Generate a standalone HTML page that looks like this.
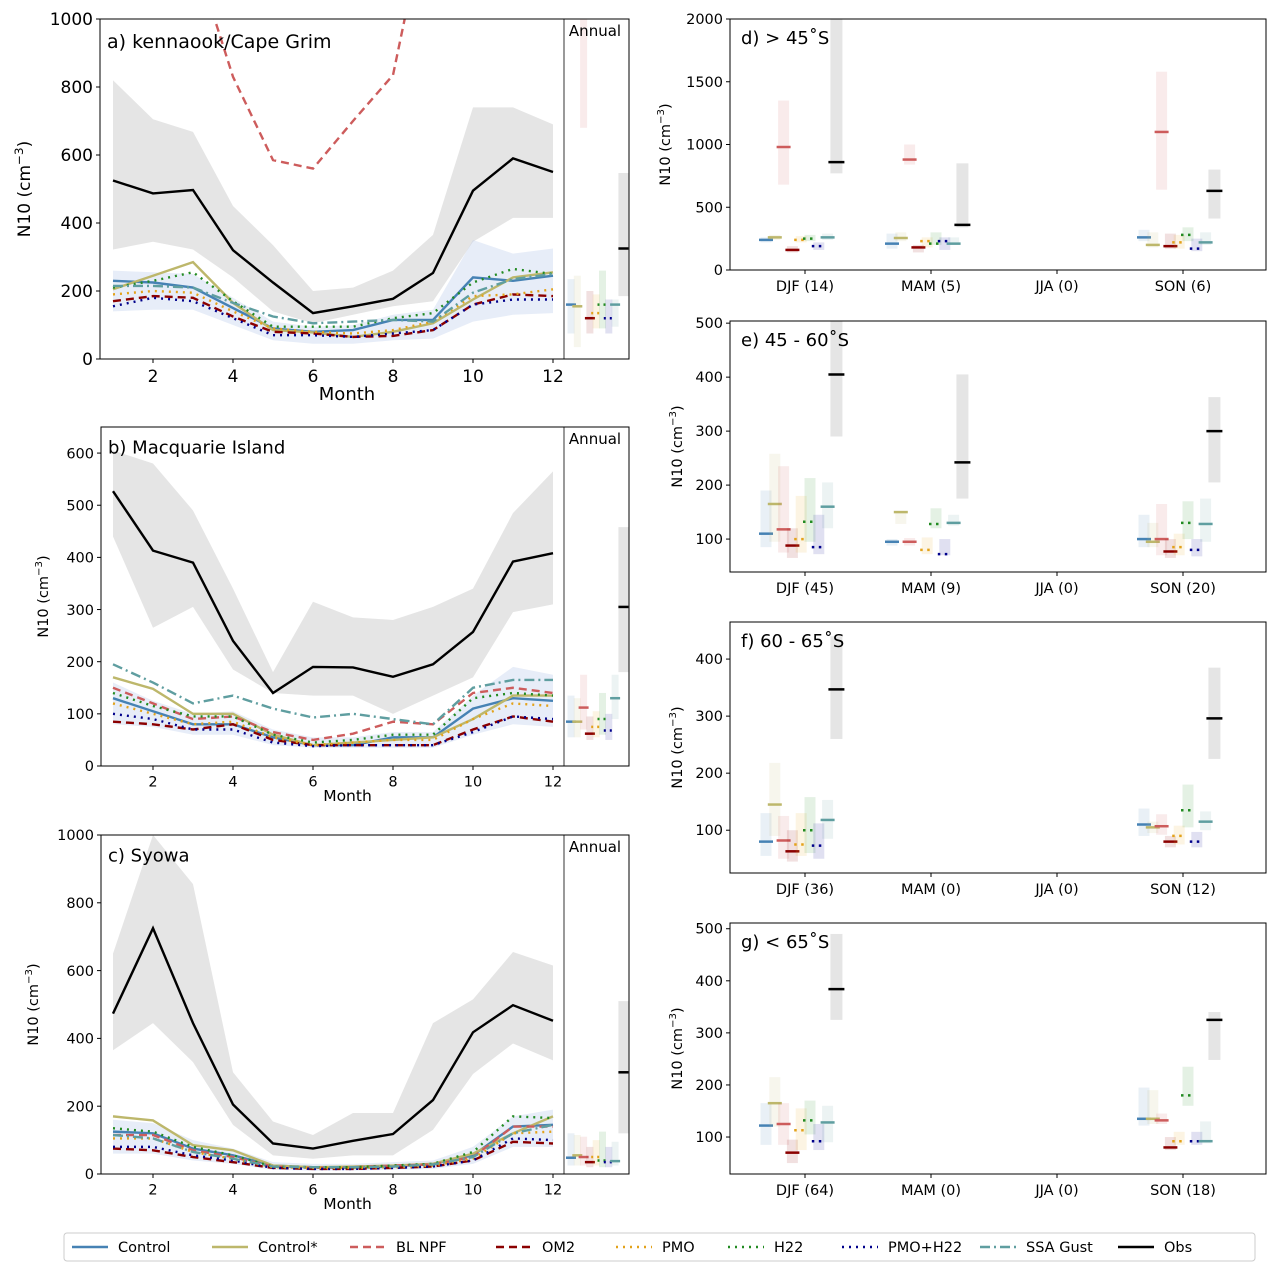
<!DOCTYPE html>
<html><head><meta charset="utf-8"><style>
body{margin:0;background:#fff;font-family:"Liberation Sans","DejaVu Sans",sans-serif}
svg text{font-family:"DejaVu Sans","Liberation Sans",sans-serif}
</style></head><body>
<svg id="fig" width="1278" height="1276" xmlns="http://www.w3.org/2000/svg"></svg>
<script>
const seriesNames=["Control","Control*","BL NPF","OM2","PMO","H22","PMO+H22","SSA Gust","Obs"];
const seriesColors=["#4682b4","#bdb76b","#cd5c5c","#8b0000","#e3a21a","#228b22","#00008b","#5f9ea0","#000000"];
const seriesDash=["","","8,5","8,5","2,5","2,5","2,5","10,4,2,4",""];
const months=[1,2,3,4,5,6,7,8,9,10,11,12];
// Panel a: kennaook/Cape Grim
const aObs=[525,487,497,320,225,135,155,177,253,495,590,550];
const aObsLo=[322,345,322,240,140,105,130,155,170,345,415,415];
const aObsHi=[820,705,668,450,335,200,210,260,365,740,740,690];
const aBandLo=[140,145,145,100,55,45,45,55,60,110,130,135];
const aBandHi=[260,255,250,180,110,95,100,130,145,350,310,325];
const aControl=[230,225,210,150,90,80,85,115,115,240,230,245];
const aControlS=[205,245,285,165,85,78,65,80,105,175,240,255];
const aBLNPF=[1500,1400,1200,830,585,560,700,835,1400,1600,1600,1600];
const aOM2=[170,185,180,125,80,75,65,68,85,160,190,185];
const aPMO=[190,200,195,140,90,80,75,85,110,185,190,205];
const aH22=[210,230,255,170,95,95,95,120,135,225,265,250];
const aPMOH22=[155,180,170,120,70,70,65,75,85,160,175,175];
const aSSA=[215,215,210,165,125,105,110,115,110,195,235,250];
const aAnnMean=[160,155,1100,120,135,160,120,160,325];
const aAnnLo=[75,35,680,75,90,90,75,95,185];
const aAnnHi=[235,245,1500,200,190,260,175,175,547];
// Panel b: Macquarie Island
const bObs=[527,413,390,240,140,190,189,171,195,257,392,408];
const bObsLo=[440,265,305,185,140,135,135,100,135,170,295,310];
const bObsHi=[605,580,490,340,180,315,285,280,305,340,485,565];
const bBandLo=[80,75,60,60,40,35,35,35,35,60,80,75];
const bBandHi=[160,125,100,105,70,55,55,65,65,135,190,175];
const bControl=[130,105,80,80,55,40,40,55,55,110,130,125];
const bControlS=[170,148,100,100,60,40,45,50,55,90,135,135];
const bBLNPF=[150,120,90,95,65,50,62,85,80,140,150,140];
const bOM2=[85,80,70,80,50,40,40,40,40,70,95,85];
const bPMO=[120,100,80,85,55,40,45,50,50,90,120,115];
const bH22=[140,115,95,95,60,45,50,60,60,130,140,135];
const bPMOH22=[100,90,70,70,45,38,40,40,40,65,95,90];
const bSSA=[195,160,120,135,110,93,100,90,80,150,165,165];
const bAnnMean=[85,85,112,62,75,90,68,130,305];
const bAnnLo=[55,55,70,50,55,60,50,90,180];
const bAnnHi=[135,130,175,95,105,140,100,175,458];
// Panel c: Syowa
const cObs=[473,725,445,205,90,75,98,118,218,418,498,452];
const cObsLo=[365,445,330,145,55,45,55,55,130,295,385,335];
const cObsHi=[650,1000,855,300,155,115,180,180,445,515,655,615];
const cBandLo=[60,60,40,30,12,10,10,12,15,30,80,80];
const cBandHi=[160,150,100,75,35,30,30,35,40,80,170,190];
const cControl=[125,120,75,55,25,20,18,22,30,55,140,145];
const cControlS=[170,158,85,70,25,20,22,25,30,60,120,170];
const cBLNPF=[115,115,70,50,22,18,20,25,28,50,140,140];
const cOM2=[75,70,50,35,18,15,15,18,22,40,95,90];
const cPMO=[105,105,65,45,20,18,18,20,25,45,120,125];
const cH22=[135,125,80,55,22,20,20,25,30,65,170,165];
const cPMOH22=[80,80,55,40,18,15,15,18,22,40,105,100];
const cSSA=[115,105,65,45,22,20,20,22,28,50,120,145];
const cAnnMean=[48,55,50,35,50,40,35,38,300];
const cAnnLo=[25,25,25,20,25,20,20,25,120];
const cAnnHi=[120,115,110,80,100,125,80,95,510];
// Right panels: seasons, per-series [DJF,MAM,JJA,SON]; null = no data
const dLabels=["DJF (14)","MAM (5)","JJA (0)","SON (6)"];
const dMean=[[240,210,null,260],[260,255,null,200],[980,880,null,1100],[160,180,null,190],[240,230,null,220],[250,210,null,280],[190,230,null,170],[260,210,null,220],[860,360,null,630]];
const dLo=[[220,170,null,230],[240,230,null,180],[680,840,null,640],[140,140,null,170],[220,180,null,170],[230,200,null,230],[160,160,null,150],[240,200,null,200],[770,340,null,410]];
const dHi=[[260,290,null,320],[280,300,null,300],[1350,1000,null,1580],[190,200,null,290],[270,260,null,280],[280,300,null,340],[220,260,null,250],[290,260,null,300],[2000,850,null,800]];
const eLabels=["DJF (45)","MAM (9)","JJA (0)","SON (20)"];
const eMean=[[110,95,null,100],[165,150,null,95],[118,95,null,100],[88,null,null,77],[100,80,null,85],[132,128,null,130],[85,72,null,80],[160,130,null,128],[405,242,null,300]];
const eLo=[[85,88,null,85],[95,128,null,85],[75,88,null,70],[65,null,null,65],[75,72,null,70],[95,120,null,100],[72,70,null,68],[120,125,null,95],[290,175,null,205]];
const eHi=[[190,100,null,145],[258,152,null,130],[235,102,null,165],[120,null,null,100],[180,103,null,110],[213,157,null,170],[145,100,null,100],[205,145,null,175],[510,405,null,363]];
const fLabels=["DJF (36)","MAM (0)","JJA (0)","SON (12)"];
const fMean=[[80,null,null,110],[145,null,null,105],[82,null,null,107],[63,null,null,80],[75,null,null,90],[100,null,null,135],[73,null,null,80],[118,null,null,115],[347,null,null,296]];
const fLo=[[55,null,null,90],[90,null,null,95],[50,null,null,92],[45,null,null,70],[55,null,null,75],[60,null,null,105],[50,null,null,70],[85,null,null,100],[260,null,null,225]];
const fHi=[[130,null,null,138],[218,null,null,115],[125,null,null,128],[100,null,null,90],[130,null,null,108],[158,null,null,180],[112,null,null,97],[153,null,null,133],[440,null,null,385]];
const gLabels=["DJF (64)","MAM (0)","JJA (0)","SON (18)"];
const gMean=[[122,null,null,135],[165,null,null,135],[125,null,null,132],[70,null,null,80],[113,null,null,92],[132,null,null,180],[92,null,null,92],[128,null,null,92],[384,null,null,325]];
const gLo=[[85,null,null,122],[120,null,null,125],[85,null,null,125],[50,null,null,75],[75,null,null,85],[105,null,null,160],[75,null,null,85],[90,null,null,88],[325,null,null,248]];
const gHi=[[165,null,null,195],[215,null,null,190],[165,null,null,145],[95,null,null,100],[155,null,null,110],[170,null,null,235],[125,null,null,110],[160,null,null,130],[490,null,null,340]];
const aTicksY=[0,200,400,600,800,1000];
const bTicksY=[0,100,200,300,400,500,600];
const cTicksY=[0,200,400,600,800,1000];
const monthTicks=[2,4,6,8,10,12];
const dTicksY=[0,500,1000,1500,2000];
const eTicksY=[100,200,300,400,500];
const fTicksY=[100,200,300,400];
const gTicksY=[100,200,300,400,500];

const NS="http://www.w3.org/2000/svg";
const svg=document.getElementById('fig');
let clipN=0;
function mk(tag,attrs,parent){const e=document.createElementNS(NS,tag);for(const k in attrs)e.setAttribute(k,attrs[k]);(parent||svg).appendChild(e);return e;}
function txt(s,attrs,parent){const e=mk('text',attrs,parent);e.textContent=s;return e;}
function ylabel(x,y,size){const t=mk('text',{x:x,y:y,'font-size':size,'text-anchor':'middle',transform:`rotate(-90 ${x} ${y})`});

t.appendChild(document.createTextNode('N10 (cm'));const s=mk('tspan',{dy:-size*0.4,'font-size':size*0.7},t);s.textContent='−3';const s2=mk('tspan',{dy:size*0.4},t);s2.textContent=')';}

function leftPanel(cfg){
  const {x0,x1,xs,y0,y1,ymax,ticks,fs,title,name}=cfg;
  const g=mk('g',{});
  const X=m=>113+(m-1)*40;
  const Y=v=>y1-(v/ymax)*(y1-y0);
  const id='c'+(clipN++);
  const cp=mk('clipPath',{id:id},g);mk('rect',{x:x0,y:y0,width:x1-x0,height:y1-y0},cp);
  const pg=mk('g',{'clip-path':`url(#${id})`},g);
  function band(lo,hi,fill,op,nm){let d=months.map((m,i)=>`${X(m)},${Y(hi[i])}`).join(' ')+' '+months.slice().reverse().map((m,j)=>{const i=11-j;return `${X(m)},${Y(lo[i])}`}).join(' ');
    const p=mk('polygon',{points:d,fill:fill,'fill-opacity':op},pg);}
  band(cfg.obsLo,cfg.obsHi,'#e5e5e5',1,'obs-range-band');
  band(cfg.bandLo,cfg.bandHi,'#b0c4e8',0.3,'model-range-band');
  cfg.series.forEach((arr,si)=>{const p=mk('polyline',{points:months.map((m,i)=>`${X(m)},${Y(arr[i])}`).join(' '),fill:'none',stroke:seriesColors[si],'stroke-width':2.4,'stroke-dasharray':seriesDash[si]},pg);
    });
  // annual
  const ax=i=>571+i*6.3;
  cfg.annMean.forEach((v,i)=>{const w=i==8?10:7;
    const r=mk('rect',{x:ax(i)-w/2+(i==8?2:0),y:Y(cfg.annHi[i]),width:w,height:Y(cfg.annLo[i])-Y(cfg.annHi[i]),fill:i==8?'#e5e5e5':seriesColors[i],'fill-opacity':i==8?1:0.12},pg);
    
    const l=mk('line',{x1:ax(i)-5+(i==8?2:0),x2:ax(i)+5+(i==8?2:0),y1:Y(v),y2:Y(v),stroke:seriesColors[i],'stroke-width':2.5,'stroke-dasharray':(i==4||i==5||i==6)?'2,4':''},pg);
    });
  mk('rect',{x:x0,y:y0,width:x1-x0,height:y1-y0,fill:'none',stroke:'#000','stroke-width':1},g);
  mk('line',{x1:xs,x2:xs,y1:y0,y2:y1,stroke:'#000','stroke-width':0.8},g);
  txt('Annual',{x:xs+31,y:y0+17,'font-size':15,'text-anchor':'middle'},g);
  ticks.forEach(t=>{mk('line',{x1:x0-4,x2:x0,y1:Y(t),y2:Y(t),stroke:'#000'},g);txt(t,{x:x0-7,y:Y(t)+fs*0.36,'font-size':fs,'text-anchor':'end'},g);});
  monthTicks.forEach(t=>{mk('line',{x1:X(t),x2:X(t),y1:y1,y2:y1+4,stroke:'#000'},g);txt(t,{x:X(t),y:y1+6+fs,'font-size':fs,'text-anchor':'middle'},g);});
  txt('Month',{x:(x0+xs)/2+15,y:y1+fs*2.4,'font-size':fs+1,'text-anchor':'middle'},g);
  txt(title,{x:x0+7,y:y0+fs+12,'font-size':cfg.tfs,'text-anchor':'start'},g);
  ylabel(cfg.ylx,(y0+y1)/2,fs);
}
leftPanel({name:'panel-a',x0:100,x1:629,xs:564,y0:19,y1:359,ymax:1000,ticks:aTicksY,fs:17,tfs:19,title:'a) kennaook/Cape Grim',ylx:30,
  obsLo:aObsLo,obsHi:aObsHi,bandLo:aBandLo,bandHi:aBandHi,series:[aControl,aControlS,aBLNPF,aOM2,aPMO,aH22,aPMOH22,aSSA,aObs],annMean:aAnnMean,annLo:aAnnLo,annHi:aAnnHi});
leftPanel({name:'panel-b',x0:101,x1:629,xs:564,y0:427,y1:766,ymax:650,ticks:bTicksY,fs:14.5,tfs:18,title:'b) Macquarie Island',ylx:48,
  obsLo:bObsLo,obsHi:bObsHi,bandLo:bBandLo,bandHi:bBandHi,series:[bControl,bControlS,bBLNPF,bOM2,bPMO,bH22,bPMOH22,bSSA,bObs],annMean:bAnnMean,annLo:bAnnLo,annHi:bAnnHi});
leftPanel({name:'panel-c',x0:101,x1:629,xs:564,y0:835,y1:1174,ymax:1000,ticks:cTicksY,fs:14.5,tfs:18,title:'c) Syowa',ylx:38,
  obsLo:cObsLo,obsHi:cObsHi,bandLo:cBandLo,bandHi:cBandHi,series:[cControl,cControlS,cBLNPF,cOM2,cPMO,cH22,cPMOH22,cSSA,cObs],annMean:cAnnMean,annLo:cAnnLo,annHi:cAnnHi});

function rightPanel(cfg){
  const {y0,y1,ymin,ymax,ticks,title,name,labels}=cfg;const x0=730,x1=1266;
  const g=mk('g',{});
  const Y=v=>y1-(v-ymin)/(ymax-ymin)*(y1-y0);
  const CX=k=>805+k*126;
  const id='c'+(clipN++);
  const cp=mk('clipPath',{id:id},g);mk('rect',{x:x0,y:y0,width:x1-x0,height:y1-y0},cp);
  const pg=mk('g',{'clip-path':`url(#${id})`},g);
  for(let s=0;s<9;s++)for(let k=0;k<4;k++){const v=cfg.mean[s][k];if(v==null)continue;
    const cx=CX(k)-39+s*8.8;const w=s==8?12:11;
    const r=mk('rect',{x:cx-w/2,y:Y(cfg.hi[s][k]),width:w,height:Y(cfg.lo[s][k])-Y(cfg.hi[s][k]),fill:s==8?'#e5e5e5':seriesColors[s],'fill-opacity':s==8?1:0.12},pg);
    
    const hw=s==8?8:7;
    const l=mk('line',{x1:cx-hw,x2:cx+hw,y1:Y(v),y2:Y(v),stroke:seriesColors[s],'stroke-width':2.5,'stroke-dasharray':(s==4||s==5||s==6)?'2.5,4.5':''},pg);
    }
  mk('rect',{x:x0,y:y0,width:x1-x0,height:y1-y0,fill:'none',stroke:'#000','stroke-width':1},g);
  ticks.forEach(t=>{mk('line',{x1:x0-4,x2:x0,y1:Y(t),y2:Y(t),stroke:'#000'},g);txt(t,{x:x0-7,y:Y(t)+5,'font-size':14.5,'text-anchor':'end'},g);});
  labels.forEach((l,k)=>{mk('line',{x1:CX(k),x2:CX(k),y1:y1,y2:y1+4,stroke:'#000'},g);txt(l,{x:CX(k),y:y1+21,'font-size':14.5,'text-anchor':'middle'},g);});
  txt(title,{x:x0+11,y:y0+25,'font-size':18,'text-anchor':'start'},g);
  ylabel(cfg.ylx,(y0+y1)/2,14.5);
}
rightPanel({name:'panel-d',y0:19,y1:270,ymin:0,ymax:2000,ticks:dTicksY,title:'d) > 45˚S',labels:dLabels,mean:dMean,lo:dLo,hi:dHi,ylx:670});
rightPanel({name:'panel-e',y0:321,y1:572,ymin:39,ymax:504,ticks:eTicksY,title:'e) 45 - 60˚S',labels:eLabels,mean:eMean,lo:eLo,hi:eHi,ylx:682});
rightPanel({name:'panel-f',y0:622,y1:873,ymin:25,ymax:465,ticks:fTicksY,title:'f) 60 - 65˚S',labels:fLabels,mean:fMean,lo:fLo,hi:fHi,ylx:682});
rightPanel({name:'panel-g',y0:923,y1:1174,ymin:29,ymax:511,ticks:gTicksY,title:'g) < 65˚S',labels:gLabels,mean:gMean,lo:gLo,hi:gHi,ylx:682});

// legend
const lg=mk('g',{});
mk('rect',{x:64,y:1233,width:1191,height:28,rx:3,fill:'#fff',stroke:'#ccc'},lg);
const legX=[72,212,350,496,616,728,842,980,1118];
seriesNames.forEach((n,i)=>{const e=mk('g',{},lg);
  mk('line',{x1:legX[i],x2:legX[i]+36,y1:1247,y2:1247,stroke:seriesColors[i],'stroke-width':2.4,'stroke-dasharray':seriesDash[i]},e);
  txt(n,{x:legX[i]+46,y:1252,'font-size':14.5},e);});
</script>
</body></html>
